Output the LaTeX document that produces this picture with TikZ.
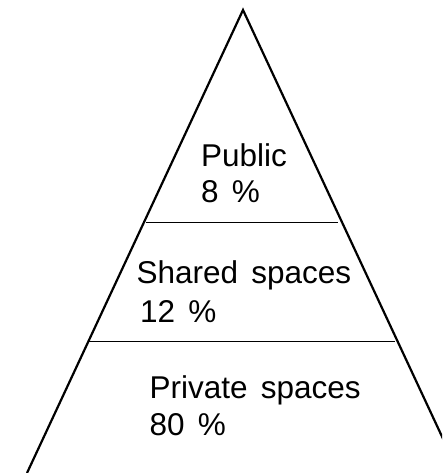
\documentclass[tikz,border=0pt]{standalone}
\usepackage{fontspec}
\setmainfont[WordSpace=1.5]{Liberation Sans}
\begin{document}
\begin{tikzpicture}[x=1pt,y=-1pt,
  edge/.style={line width=2.2pt,line join=miter},
  divider/.style={line width=1pt},
  lbl/.style={anchor=base west,inner sep=0pt,font=\fontsize{31.5}{37}\selectfont}]
\useasboundingbox (0,0) rectangle (442,473);
\clip (0,0) rectangle (442,473);
\coordinate (apex) at (243,10);
\coordinate (bl) at (27,473);
\coordinate (br) at (459,473);
\draw[edge] (bl) -- (apex) -- (br);
\coordinate (d1l) at (146,222.5);
\coordinate (d1r) at (338,222.5);
\coordinate (d2l) at (89,341.7);
\coordinate (d2r) at (395,341.7);
\draw[divider] (d1l) -- (d1r);
\draw[divider] (d2l) -- (d2r);
\node[lbl] (pub) at (201,166) {Public};
\node[lbl] (pubp) at (201,202.7) {8 \%};
\node[lbl] (sh) at (136.5,283) {Shared spaces};
\node[lbl] (shp) at (140,322.7) {12 \%};
\node[lbl] (pr) at (149.5,398) {Private spaces};
\node[lbl] (prp) at (149.5,435) {80 \%};
\end{tikzpicture}
\end{document}
